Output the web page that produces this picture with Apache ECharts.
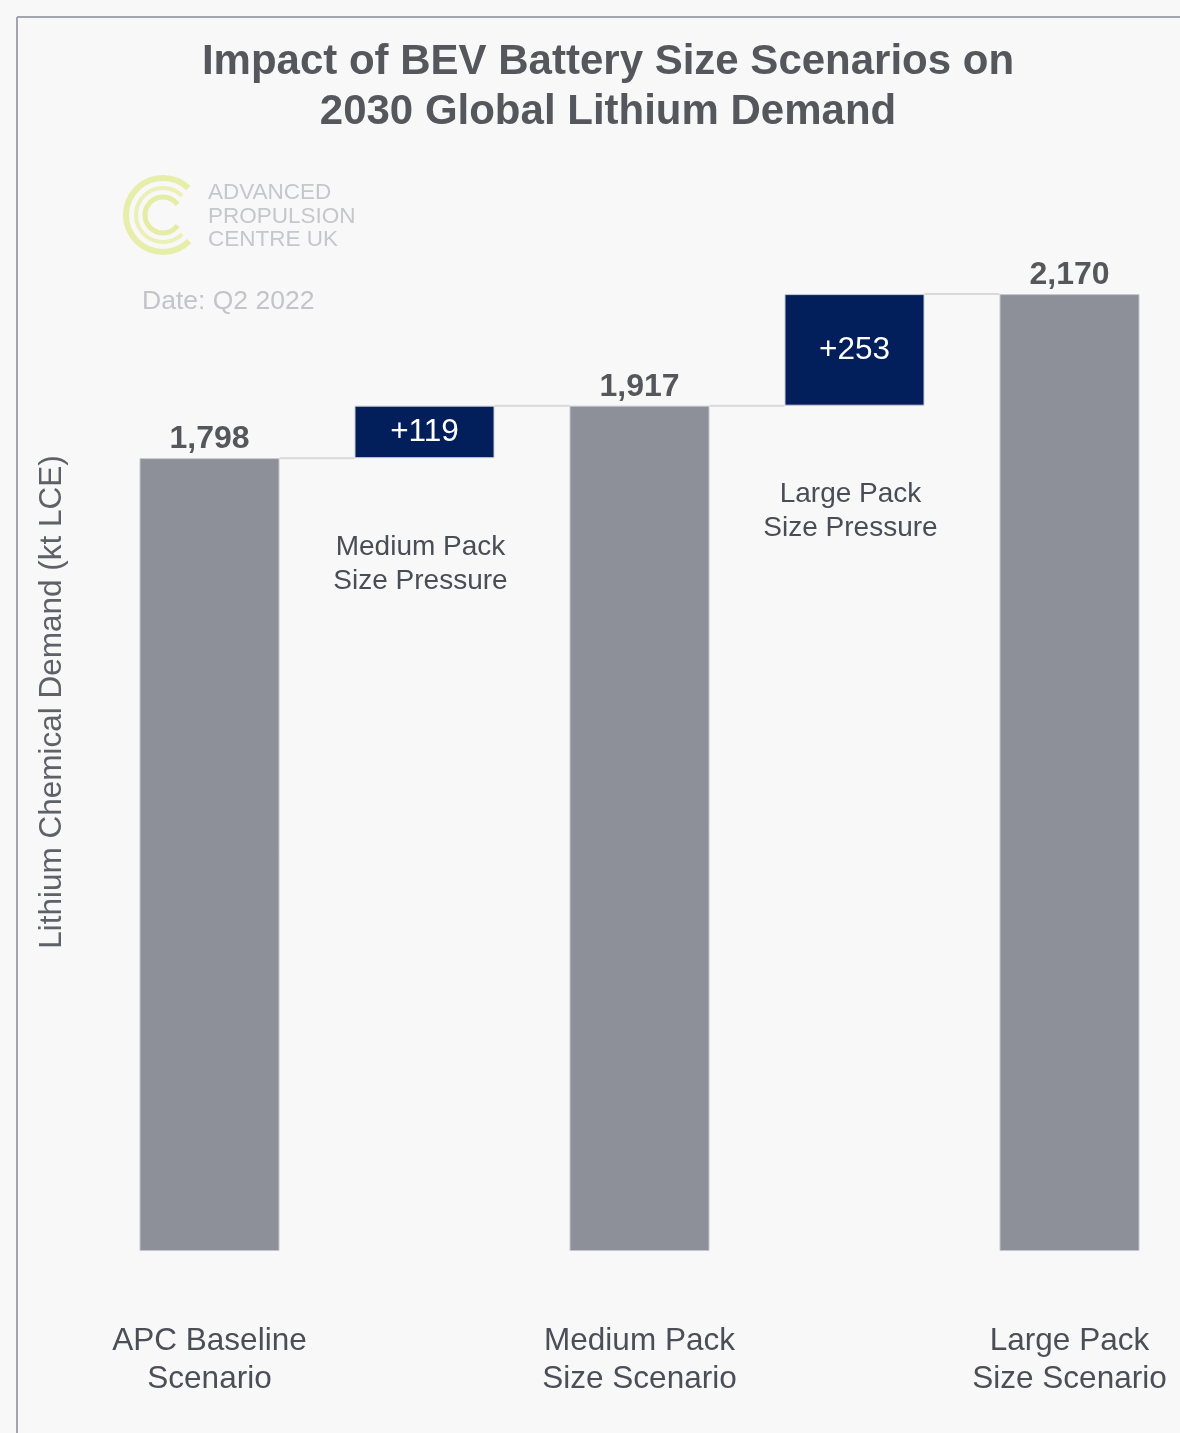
<!DOCTYPE html>
<html>
<head>
<meta charset="utf-8">
<title>Impact of BEV Battery Size Scenarios on 2030 Global Lithium Demand</title>
<script src="https://cdn.jsdelivr.net/npm/echarts@6/dist/echarts.min.js"></script>
<style>
  html, body { margin: 0; padding: 0; background: #f8f8f8; }
  #chart { width: 1180px; height: 1433px; }
</style>
</head>
<body>
<div id="chart"></div>
<script>
// Waterfall steps: scenario totals and the pack-size increments between them (kt LCE)
const categories = [
  'APC Baseline Scenario',
  'Medium Pack Size Pressure',
  'Medium Pack Size Scenario',
  'Large Pack Size Pressure',
  'Large Pack Size Scenario'
];
const axisLabels = ['APC Baseline\nScenario', '', 'Medium Pack\nSize Scenario', '', 'Large Pack\nSize Scenario'];
const stepLabels = ['', 'Medium Pack\nSize Pressure', '', 'Large Pack\nSize Pressure', ''];
const totals = [1798, null, 1917, null, 2170];
const increments = [null, 119, null, 253, null];

// invisible base under each increment = the preceding scenario total
const bases = increments.map((v, i) => (v == null ? null : totals[i - 1]));
// level reached at the end of each step, used for the connector lines
const levels = totals.map((t, i) => (t != null ? t : bases[i] + increments[i]));
const connectors = levels.slice(0, -1).map((lv, i) => [i, lv]);

const FONT = '"Liberation Sans", Arial, Helvetica, sans-serif';
const BAR_W = 140;

const chart = echarts.init(document.getElementById('chart'), null, { renderer: 'canvas' });

chart.setOption({
  backgroundColor: '#f8f8f8',
  animation: false,
  title: {
    text: 'Impact of BEV Battery Size Scenarios on\n2030 Global Lithium Demand',
    left: 603,
    top: 32,
    textAlign: 'center',
    textStyle: {
      fontFamily: FONT,
      fontSize: 42,
      fontWeight: 'bold',
      color: '#55575d',
      lineHeight: 50
    }
  },
  grid: { left: 102, right: 3, top: 153, bottom: 182, containLabel: false },
  xAxis: {
    type: 'category',
    data: categories,
    axisLine: { show: false },
    axisTick: { show: false },
    axisLabel: {
      interval: 0,
      margin: 71,
      fontFamily: FONT,
      fontSize: 31.5,
      lineHeight: 38,
      color: '#4b4e56',
      formatter: (value, idx) => axisLabels[idx]
    }
  },
  yAxis: {
    type: 'value',
    min: 0,
    max: 2490,
    show: false
  },
  series: [
    {
      name: 'base',
      type: 'bar',
      stack: 'waterfall',
      barWidth: BAR_W,
      silent: true,
      itemStyle: { color: 'transparent' },
      label: {
        show: true,
        position: 'insideTop',
        distance: 72,
        offset: [-4, 0],
        fontFamily: FONT,
        fontSize: 28,
        lineHeight: 34,
        color: '#4a4d55',
        formatter: p => stepLabels[p.dataIndex]
      },
      data: bases
    },
    {
      name: 'increase',
      type: 'bar',
      stack: 'waterfall',
      barWidth: BAR_W,
      itemStyle: { color: '#031f5b', borderColor: '#c9ccd6', borderWidth: 1 },
      label: {
        show: true,
        position: 'inside',
        fontFamily: FONT,
        fontSize: 31.5,
        color: '#ffffff',
        formatter: p => '+' + p.value
      },
      data: increments
    },
    {
      name: 'total',
      type: 'bar',
      stack: 'waterfall',
      barWidth: BAR_W,
      itemStyle: { color: '#8d9098', borderColor: '#c4c6cc', borderWidth: 1 },
      label: {
        show: true,
        position: 'top',
        distance: 3,
        fontFamily: FONT,
        fontSize: 32,
        fontWeight: 'bold',
        color: '#55575d',
        formatter: p => Number(p.value).toLocaleString('en-US')
      },
      data: totals
    },
    {
      name: 'connector',
      type: 'custom',
      silent: true,
      z: 1,
      renderItem: (params, api) => {
        const i = api.value(0);
        const lv = api.value(1);
        const a = api.coord([i, lv]);
        const b = api.coord([i + 1, lv]);
        return {
          type: 'line',
          shape: { x1: a[0] + BAR_W / 2, y1: a[1], x2: b[0] - BAR_W / 2, y2: b[1] },
          style: { stroke: '#d9d9dc', lineWidth: 2 }
        };
      },
      data: connectors
    }
  ],
  graphic: [
    // frame
    { type: 'line', shape: { x1: 17, y1: 17, x2: 1180, y2: 17 }, style: { stroke: '#a3a6ae', lineWidth: 2 } },
    { type: 'line', shape: { x1: 17, y1: 17, x2: 17, y2: 1433 }, style: { stroke: '#a3a6ae', lineWidth: 2 } },
    // APC logo mark
    { type: 'arc', shape: { cx: 163, cy: 215, r: 37, startAngle: Math.PI * 0.25, endAngle: Math.PI * 1.74, clockwise: true },
      style: { stroke: '#e7eea9', lineWidth: 6, fill: 'none' } },
    { type: 'arc', shape: { cx: 163, cy: 215, r: 27, startAngle: Math.PI * 0.25, endAngle: Math.PI * 1.75, clockwise: true },
      style: { stroke: '#eaf0b6', lineWidth: 4, fill: 'none' } },
    { type: 'arc', shape: { cx: 163, cy: 215, r: 18, startAngle: Math.PI * 0.2, endAngle: Math.PI * 1.8, clockwise: true },
      style: { stroke: '#e5eca3', lineWidth: 5, fill: 'none' } },
    { type: 'text', x: 208, y: 193, style: { text: 'ADVANCED', font: '500 22.5px ' + FONT, fill: '#c6c7cb', textVerticalAlign: 'middle' } },
    { type: 'text', x: 208, y: 217, style: { text: 'PROPULSION', font: '500 22.5px ' + FONT, fill: '#c6c7cb', textVerticalAlign: 'middle' } },
    { type: 'text', x: 208, y: 240, style: { text: 'CENTRE UK', font: '500 22.5px ' + FONT, fill: '#c6c7cb', textVerticalAlign: 'middle' } },
    // date stamp
    { type: 'text', x: 142, y: 302, style: { text: 'Date: Q2 2022', font: '26.5px ' + FONT, fill: '#c3c4c8', textVerticalAlign: 'middle' } },
    // value axis title
    { type: 'text', x: 52, y: 702, rotation: Math.PI / 2,
      style: { text: 'Lithium Chemical Demand (kt LCE)', font: '31.5px ' + FONT, fill: '#5f6168', textAlign: 'center', textVerticalAlign: 'middle' } }
  ]
});
</script>
</body>
</html>
